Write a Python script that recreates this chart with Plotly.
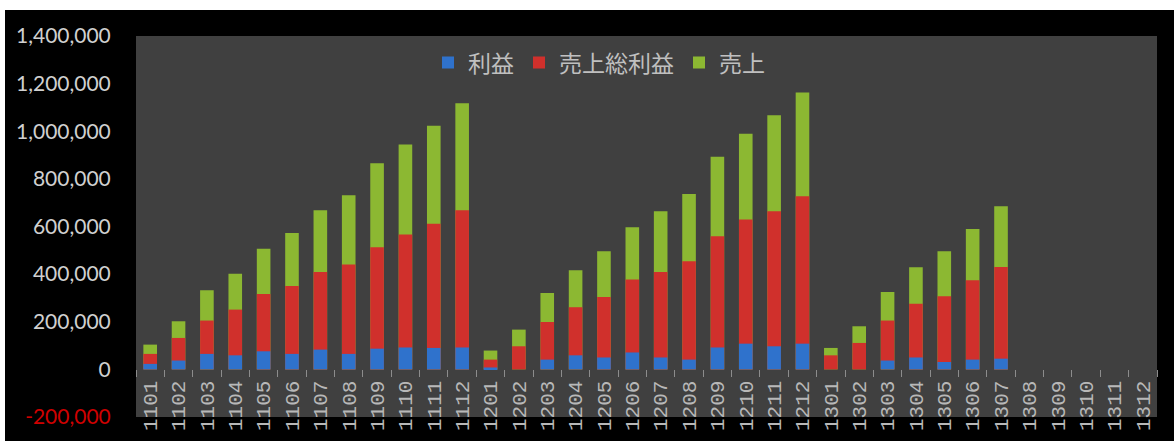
import plotly.graph_objects as go

months = ['1101', '1102', '1103', '1104', '1105', '1106', '1107', '1108', '1109', '1110', '1111', '1112',
          '1201', '1202', '1203', '1204', '1205', '1206', '1207', '1208', '1209', '1210', '1211', '1212',
          '1301', '1302', '1303', '1304', '1305', '1306', '1307', '1308', '1309', '1310', '1311', '1312']

profit = [23000, 37000, 65000, 59000, 76000, 65000, 83000, 65000, 87000, 92000, 90000, 92000,
          8000, 0, 41000, 59000, 50000, 71000, 50000, 41000, 92000, 108000, 97000, 108000,
          0, 0, 37000, 50000, 31000, 41000, 45000, None, None, None, None, None]

gross_profit = [65000, 132000, 205000, 251000, 317000, 350000, 409000, 440000, 513000, 566000, 612000, 668000,
                41000, 97000, 199000, 261000, 304000, 377000, 409000, 454000, 559000, 629000, 664000, 727000,
                59000, 111000, 205000, 276000, 307000, 374000, 430000, None, None, None, None, None]

sales = [104000, 202000, 332000, 402000, 507000, 573000, 668000, 731000, 866000, 944000, 1023000, 1118000,
         79000, 167000, 321000, 416000, 496000, 597000, 664000, 737000, 893000, 989000, 1067000, 1163000,
         90000, 181000, 325000, 429000, 496000, 590000, 685000, None, None, None, None, None]

y_ticks = [-200000, 0, 200000, 400000, 600000, 800000, 1000000, 1200000, 1400000]
y_tick_text = ['<span style="color:#d00000">-200,000</span>', '0', '200,000', '400,000', '600,000',
               '800,000', '1,000,000', '1,200,000', '1,400,000']
grid_vals = [v for v in y_ticks if v > 0]

W, H = 1174, 441
ML, MR, MT, MB = 136, 17, 36, 24
PW, PH = W - ML - MR, H - MT - MB

fig = go.Figure()
fig.add_trace(go.Bar(x=months, y=sales, name='売上', marker=dict(color='#8cb832', line=dict(width=0))))
fig.add_trace(go.Bar(x=months, y=gross_profit, name='売上総利益', marker=dict(color='#d0302c', line=dict(width=0))))
fig.add_trace(go.Bar(x=months, y=profit, name='利益', marker=dict(color='#2f72cc', line=dict(width=0))))

# white frame strips (top and left)
fig.add_shape(type='rect', xref='paper', yref='paper', layer='below',
              x0=-ML / PW, x1=1 + MR / PW, y0=1 + (MT - 10) / PH, y1=1 + MT / PH,
              fillcolor='white', line=dict(width=0))
fig.add_shape(type='rect', xref='paper', yref='paper', layer='below',
              x0=-ML / PW, x1=(5 - ML) / PW, y0=-MB / PH, y1=1 + MT / PH,
              fillcolor='white', line=dict(width=0))

fig.update_layout(
    template='none',
    width=W, height=H,
    margin=dict(l=ML, r=MR, t=MT, b=MB, autoexpand=False),
    paper_bgcolor='black', plot_bgcolor='#404040',
    barmode='overlay', bargap=0.52,
    showlegend=True,
    legend=dict(orientation='h', x=(428 - ML) / PW, y=0.93, xanchor='left', yanchor='middle',
                traceorder='reversed', bgcolor='rgba(0,0,0,0)',
                font=dict(family='Noto Sans CJK JP', size=23, color='#c0c0c0')),
    xaxis=dict(type='category', anchor='free', position=0.125, showgrid=False, showline=False,
               zeroline=False, ticks='outside', tickson='boundaries', ticklen=7, tickwidth=1,
               tickcolor='#8c8c8c', tickangle=-90, ticklabelstandoff=6,
               tickfont=dict(family='Liberation Mono', size=21, color='#b8b8b8')),
    yaxis=dict(range=[-200000, 1400000], tickvals=y_ticks, ticktext=y_tick_text,
               showgrid=False, zeroline=False, showline=False,
               ticks='outside', ticklen=20, tickcolor='rgba(0,0,0,0)',
               tickfont=dict(family='Lato', size=21, color='#d0d0d0')),
    yaxis2=dict(range=[-200000, 1400000], overlaying='y', side='left', anchor='x',
                tickvals=grid_vals, showticklabels=False, showgrid=True, gridcolor='#a6a6a6',
                gridwidth=1, zeroline=False, showline=False, ticks='outside', ticklen=8,
                tickcolor='#a6a6a6', tickwidth=1),
)

fig.write_html('out.html')
